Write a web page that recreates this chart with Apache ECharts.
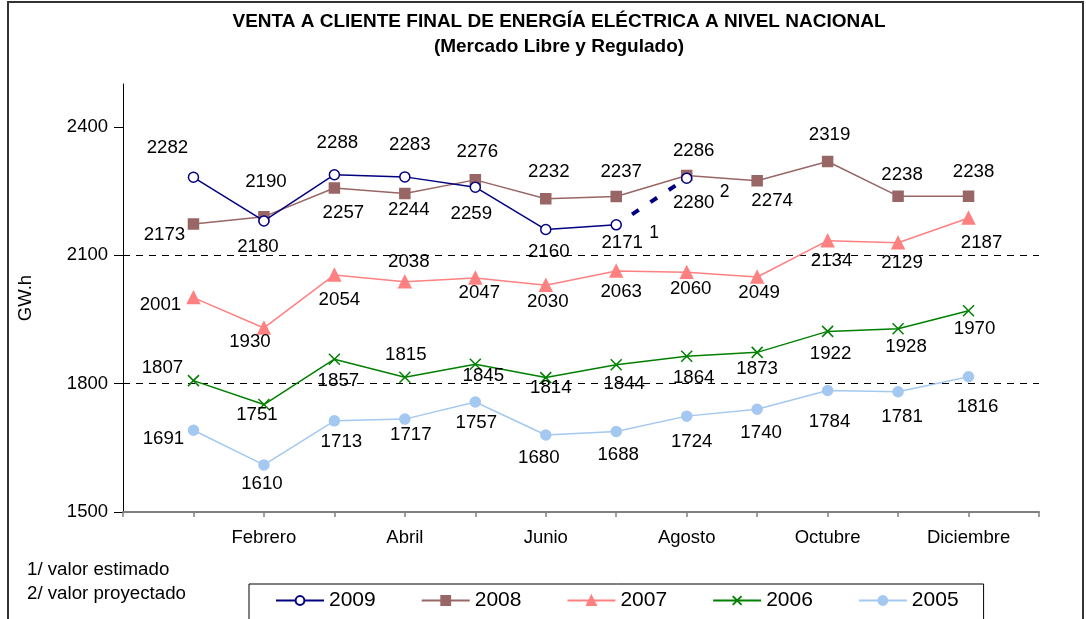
<!DOCTYPE html>
<html>
<head>
<meta charset="utf-8">
<script src="https://cdn.jsdelivr.net/npm/echarts@6/dist/echarts.min.js"></script>
<style>
	html, body { margin: 0; padding: 0; background: #fff; }
	#main { width: 1086px; height: 619px; }
</style>
</head>
<body>
<div id="main"></div>
<script>
	// meses (con un hueco vacío a cada lado, como en el original)
	let meses = ['', 'Enero', 'Febrero', 'Marzo', 'Abril', 'Mayo', 'Junio', 'Julio',
		'Agosto', 'Septiembre', 'Octubre', 'Noviembre', 'Diciembre', ''];
	let years = ['2009', '2008', '2007', '2006', '2005'];
	// valores GW.h
	let v2009 = [2282, 2180, 2288, 2283, 2259, 2160, 2171, 2280];
	let v2008 = [2173, 2190, 2257, 2244, 2276, 2232, 2237, 2286, 2274, 2319, 2238, 2238];
	let v2007 = [2001, 1930, 2054, 2038, 2047, 2030, 2063, 2060, 2049, 2134, 2129, 2187];
	let v2006 = [1807, 1751, 1857, 1815, 1845, 1814, 1844, 1864, 1873, 1922, 1928, 1970];
	let v2005 = [1691, 1610, 1713, 1717, 1757, 1680, 1688, 1724, 1740, 1784, 1781, 1816];
	let yTicks = [1500, 1800, 2100, 2400];
	// notas: 1/ valor estimado (julio), 2/ valor proyectado (agosto)
	let notas = ['1', '2'];

	// desplazamiento de cada etiqueta respecto al punto
	let off2009 = [[-26, -29], [-6, 26], [3, -32], [5, -32], [-4, 27], [3, 22], [6, 18], [7, 25]];
	let off2008 = [[-29, 11], [2, -35], [9, 25], [4, 16], [2, -28], [3, -27], [5, -25], [7, -25], [15, 20], [2, -27], [4, -21], [5, -24]];
	let off2007 = [[-33, 7], [-14, 14], [5, 25], [4, -20], [4, 15], [2, 17], [5, 21], [4, 17], [2, 16], [4, 20], [4, 20], [13, 25]];
	let off2006 = [[-31, -13], [-7, 10], [4, 22], [1, -22], [8, 12], [5, 10], [8, 19], [7, 22], [0, 16], [3, 22], [8, 18], [6, 18]];
	let off2005 = [[-30, 9], [-2, 19], [7, 21], [6, 16], [1, 21], [-7, 23], [2, 23], [5, 26], [4, 24], [2, 31], [4, 25], [9, 30]];

	let font = "'Liberation Sans', Arial, sans-serif";

	// datos con etiqueta desplazada, empezando en enero (índice 1)
	function build(values, offsets) {
		return [null].concat(values.map((v, i) => {
			return { value: v, label: { offset: offsets[i] } };
		}));
	}

	function lineSerie(name, data, color, symbol, size, extra) {
		let s = {
			name: name,
			type: 'line',
			data: data,
			symbol: symbol,
			symbolSize: size,
			showAllSymbol: true,
			connectNulls: false,
			lineStyle: { color: color, width: 1.5 },
			itemStyle: { color: color, borderColor: color, borderWidth: 1.5 },
			label: {
				show: true,
				position: 'inside',
				color: '#000',
				fontSize: 18.7,
				fontFamily: font
			},
			emphasis: { disabled: true }
		};
		return Object.assign(s, extra || {});
	}

	let d2009 = build(v2009.slice(0, 7), off2009);
	// tramo punteado julio -> agosto
	let dProy = meses.map(() => null);
	dProy[7] = { value: v2009[6], symbol: 'none', label: { show: false } };
	dProy[8] = { value: v2009[7], label: { offset: off2009[7] } };

	let notaLabel = {
		show: true, position: 'inside', color: '#000', fontSize: 17.5, fontFamily: font
	};

	let series = [
		lineSerie('2009', d2009, '#000080', 'circle', 10, {
			itemStyle: { color: '#fff', borderColor: '#000080', borderWidth: 1.5 },
			z: 5,
			markPoint: {
				symbol: 'circle',
				symbolSize: 1,
				itemStyle: { color: 'transparent' },
				label: notaLabel,
				data: [
					{ coord: [7, v2009[6]], value: notas[0], label: { offset: [38, 8], formatter: notas[0] } },
					{ coord: [8, v2009[7]], value: notas[1], label: { offset: [38, 14], formatter: notas[1] } }
				]
			}
		}),
		lineSerie('2009p', dProy, '#000080', 'circle', 10, {
			itemStyle: { color: '#fff', borderColor: '#000080', borderWidth: 1.5 },
			lineStyle: { color: '#000080', width: 4, type: [8, 14], dashOffset: 3 },
			z: 4
		}),
		lineSerie('2008', build(v2008, off2008), '#996666', 'rect', 10),
		lineSerie('2007', build(v2007, off2007), '#FF8080', 'triangle', 12),
		lineSerie('2006', build(v2006, off2006), '#008000', 'path://M0,0L10,10M10,0L0,10', 11, {
			itemStyle: { color: 'none', borderColor: '#008000', borderWidth: 1.5 }
		}),
		lineSerie('2005', build(v2005, off2005), '#A4C8F0', 'circle', 10)
	];

	let myChart = echarts.init(document.getElementById('main'));
	let option = {
		animation: false,
		backgroundColor: '#fff',
		title: {
			text: 'VENTA A CLIENTE FINAL DE ENERGÍA ELÉCTRICA A NIVEL NACIONAL\n(Mercado Libre y Regulado)',
			left: 559,
			textAlign: 'center',
			top: 9,
			padding: 0,
			textStyle: {
				fontFamily: font,
				fontWeight: 'bold',
				fontSize: 19,
				lineHeight: 25,
				color: '#000'
			}
		},
		legend: {
			data: years,
			left: 249,
			top: 584,
			padding: [6, 25, 20, 26],
			borderColor: '#000',
			borderWidth: 1,
			itemWidth: 48,
			itemHeight: 11,
			itemGap: 45,
			textStyle: { fontFamily: font, fontSize: 21, color: '#000' }
		},
		grid: { left: 123, right: 47, top: 84, bottom: 107, containLabel: false },
		xAxis: {
			type: 'category',
			data: meses,
			boundaryGap: false,
			axisLine: { lineStyle: { color: '#808080', width: 2 } },
			axisTick: { show: true, interval: 0, length: 5, lineStyle: { color: '#808080', width: 1.5 } },
			axisLabel: {
				interval: (i) => i > 0 && i < 13 && i % 2 === 0,
				margin: 16,
				fontSize: 18.5,
				fontFamily: font,
				color: '#000'
			},
			splitLine: { show: false }
		},
		yAxis: {
			type: 'value',
			min: 1500,
			max: 2500,
			interval: 300,
			name: 'GW.h',
			nameLocation: 'middle',
			nameRotate: 90,
			nameGap: 88,
			nameTextStyle: { fontFamily: font, fontSize: 18.5, color: '#000' },
			axisLine: { show: true, lineStyle: { color: '#000', width: 1 } },
			axisTick: { show: true, length: 9, customValues: yTicks, lineStyle: { color: '#000' } },
			axisLabel: {
				customValues: yTicks,
				formatter: (v) => String(v),
				margin: 15,
				fontSize: 18.5,
				fontFamily: font,
				color: '#000'
			},
			splitLine: {
				show: true,
				showMinLine: false,
				showMaxLine: false,
				lineStyle: { color: '#000', type: [7, 6], width: 1 }
			}
		},
		graphic: [
			{
				type: 'rect',
				shape: { x: 8, y: 2, width: 1075, height: 700 },
				style: { fill: 'none', stroke: '#333', lineWidth: 2 },
				silent: true
			},
			{
				type: 'text', left: 27, top: 560,
				style: { text: '1/ valor estimado', fontSize: 18.7, fontFamily: font, fill: '#000' }
			},
			{
				type: 'text', left: 27, top: 584,
				style: { text: '2/ valor proyectado', fontSize: 18.7, fontFamily: font, fill: '#000' }
			}
		],
		series: series
	};
	myChart.setOption(option);
</script>
</body>
</html>
